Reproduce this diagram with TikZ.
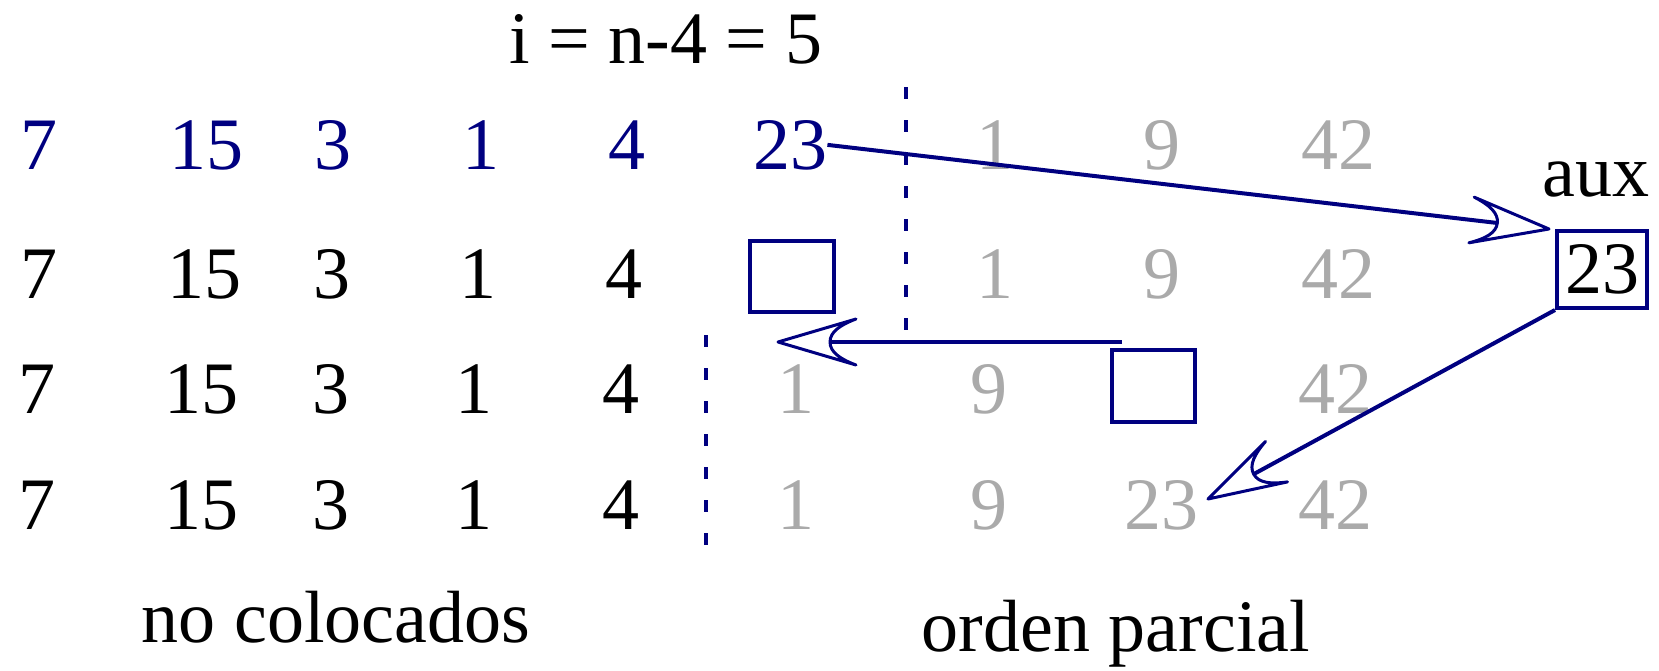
\documentclass[tikz,border=0pt]{standalone}
\usepackage{fontspec}
\setmainfont{Liberation Serif}
\usetikzlibrary{arrows.meta}
\definecolor{navyb}{RGB}{0,0,128}
\definecolor{lgray}{RGB}{170,170,170}
\newcommand{\bigfont}{\fontsize{37}{44}\selectfont}
\pgfdeclarearrow{
  name = OpenCurveTip,
  setup code = {
    \pgfarrowssettipend{0pt}
    \pgfarrowssetlineend{-26pt}
    \pgfarrowssetbackend{-39pt}
    \pgfarrowssetvisualbackend{-26pt}
    \pgfarrowshullpoint{0pt}{0pt}
    \pgfarrowshullpoint{-39pt}{11.5pt}
    \pgfarrowshullpoint{-39pt}{-11.5pt}
  },
  drawing code = {
    \pgfsetlinewidth{1.5pt}
    \pgfsetroundjoin
    \pgfpathmoveto{\pgfpoint{0pt}{0pt}}
    \pgfpathlineto{\pgfpoint{-39pt}{11.5pt}}
    \pgfpathcurveto{\pgfpoint{-31pt}{8.5pt}}{\pgfpoint{-26pt}{5pt}}{\pgfpoint{-26pt}{0pt}}
    \pgfpathcurveto{\pgfpoint{-26pt}{-5pt}}{\pgfpoint{-31pt}{-8.5pt}}{\pgfpoint{-39pt}{-11.5pt}}
    \pgfpathclose
    \pgfusepathqstroke
  }
}
\tikzset{
  num/.style={font=\bigfont, anchor=base, inner sep=0pt},
  bnum/.style={num, text=navyb},
  gnum/.style={num, text=lgray},
  emptybox/.style={draw=navyb, line width=2pt, inner sep=0pt},
  dashline/.style={draw=navyb, line width=2pt, dash pattern=on 6pt off 10.5pt},
  arr/.style={draw=navyb, line width=2pt, -OpenCurveTip}
}
\begin{document}
\begin{tikzpicture}[x=0.5pt, y=-0.5pt]
\useasboundingbox (0,0) rectangle (1659,670);
% title
\node[num] (title) at (666,63) {i = n-4 = 5};
% row 1
\node[bnum] (r1c1) at (39,169) {7};
\node[bnum] (r1c2) at (206,169) {15};
\node[bnum] (r1c3) at (333,169) {3};
\node[bnum] (r1c4) at (481,169) {1};
\node[bnum] (r1c5) at (627,169) {4};
\node[bnum] (r1c6) at (790,169) {23};
\node[gnum] (r1c7) at (995,169) {1};
\node[gnum] (r1c8) at (1162,169) {9};
\node[gnum] (r1c9) at (1338,169) {42};
\node[num] (auxlbl) at (1596,196) {aux};
% row 2
\node[num] (r2c1) at (39,298) {7};
\node[num] (r2c2) at (204,298) {15};
\node[num] (r2c3) at (332,298) {3};
\node[num] (r2c4) at (478,298) {1};
\node[num] (r2c5) at (624,298) {4};
\node[emptybox, minimum width=42pt, minimum height=35.5pt] (box1) at (792,276.5) {};
\node[gnum] (r2c7) at (995,298) {1};
\node[gnum] (r2c8) at (1162,298) {9};
\node[gnum] (r2c9) at (1338,298) {42};
\node[emptybox, font=\bigfont, minimum width=45pt, minimum height=38.5pt] (aux) at (1602,269.5) {23};
% row 3
\node[num] (r3c1) at (37,413) {7};
\node[num] (r3c2) at (201,413) {15};
\node[num] (r3c3) at (331,413) {3};
\node[num] (r3c4) at (474,413) {1};
\node[num] (r3c5) at (621,413) {4};
\node[gnum] (r3c6) at (796,413) {1};
\node[gnum] (r3c7) at (989,413) {9};
\node[emptybox, minimum width=41.5pt, minimum height=36pt] (box2) at (1153.5,386) {};
\node[gnum] (r3c9) at (1335,413) {42};
% row 4
\node[num] (r4c1) at (37,529) {7};
\node[num] (r4c2) at (201,529) {15};
\node[num] (r4c3) at (331,529) {3};
\node[num] (r4c4) at (474,529) {1};
\node[num] (r4c5) at (621,529) {4};
\node[gnum] (r4c6) at (796,529) {1};
\node[gnum] (r4c7) at (989,529) {9};
\node[gnum] (r4c8) at (1161,529) {23};
\node[gnum] (r4c9) at (1335,529) {42};
% labels
\node[num] (nocol) at (336,642) {no colocados};
\node[num] (ordp) at (1116,651) {orden parcial};
% dashed separators
\coordinate (d1a) at (906,87);
\coordinate (d1b) at (906,330);
\coordinate (d2a) at (706,335);
\coordinate (d2b) at (706,556);
\draw[dashline] (d1a) -- (d1b);
\draw[dashline] (d2a) -- (d2b);
% arrows
\coordinate (a2s) at (1122,342);
\coordinate (a2e) at (778,342);
\coordinate (a3e) at (1208,499);
\draw[arr] (r1c6.east) -- ([xshift=-3pt]aux.north west);
\draw[arr] (a2s) -- (a2e);
\draw[arr] (aux.south west) -- (a3e);
\end{tikzpicture}
\end{document}
